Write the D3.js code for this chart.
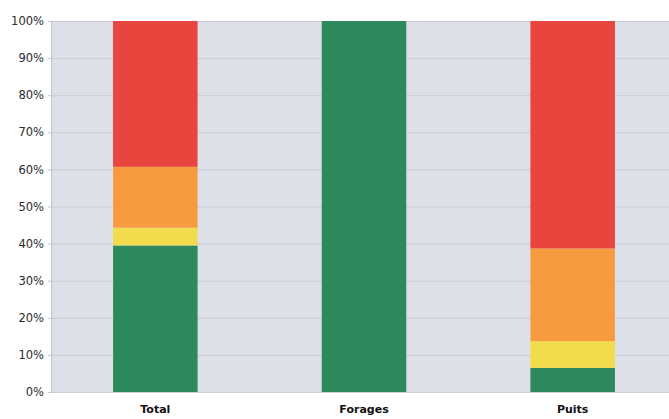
<!DOCTYPE html>
<html><head><meta charset="utf-8">
<script src="https://cdn.jsdelivr.net/npm/d3@7"></script>
<style>html,body{margin:0;padding:0;background:#fff;overflow:hidden}</style>
</head><body>
<svg id="c" width="669" height="419"></svg>
<script>
const categories = ["Total", "Forages", "Puits"];
const seriesNames = ["vert", "jaune", "orange", "rouge"];
const vert   = [39.5, 100, 6.5];
const jaune  = [4.8,  0,   7.2];
const orange = [16.4, 0,   25.0];
const rouge  = [39.3, 0,   61.3];
const colors = ["#2e8a5c", "#f2dc4c", "#f89a3f", "#e8453e"];
const yTicks = [0,10,20,30,40,50,60,70,80,90,100];

const svg = d3.select("#c");
const m = {left: 51, top: 21, right: 677, bottom: 392};
const x = d3.scaleBand().domain(categories).range([m.left, m.right]).paddingInner(0.595).paddingOuter(0.2975);
const y = d3.scaleLinear().domain([0,100]).range([m.bottom, m.top]);

svg.append("rect").attr("x", m.left).attr("y", m.top).attr("width", m.right-m.left).attr("height", m.bottom-m.top).attr("fill", "#dddfe9");

const grid = svg.append("g").attr("transform", `translate(${m.left},0)`)
  .call(d3.axisLeft(y).tickValues(yTicks).tickSize(-(m.right-m.left)).tickFormat(""));
grid.select(".domain").remove();
grid.selectAll("line").attr("stroke", "#c4c5cf").attr("stroke-width", 0.8);

const rows = categories.map((c,i) => ({cat:c, vert:vert[i], jaune:jaune[i], orange:orange[i], rouge:rouge[i]}));
const stack = d3.stack().keys(seriesNames)(rows);
svg.append("g").selectAll("g").data(stack).join("g").attr("fill", (d,i)=>colors[i])
  .selectAll("rect").data(d=>d).join("rect")
  .attr("x", d=>x(d.data.cat)).attr("width", x.bandwidth())
  .attr("y", d=>y(d[1])).attr("height", d=>y(d[0])-y(d[1]));

const ya = svg.append("g").attr("transform", `translate(${m.left},0)`)
  .call(d3.axisLeft(y).tickValues(yTicks).tickSize(3).tickPadding(4).tickFormat(d=>d+"%"));
ya.select(".domain").attr("stroke", "#c4c5cf");
ya.selectAll("line").attr("stroke", "#c4c5cf");
ya.selectAll("text").attr("fill", "#2a2a2a").style("font-family", "DejaVu Sans, Verdana, sans-serif").style("font-size", "11.5px");

const xa = svg.append("g").attr("transform", `translate(0,${m.bottom})`)
  .call(d3.axisBottom(x).tickSize(0).tickPadding(13));
xa.select(".domain").attr("stroke", "#d0d1d8");
xa.selectAll("text").attr("fill", "#111").style("font-family", "DejaVu Sans, Verdana, sans-serif").style("font-size", "11px").style("font-weight", "bold");
</script>
</body></html>
